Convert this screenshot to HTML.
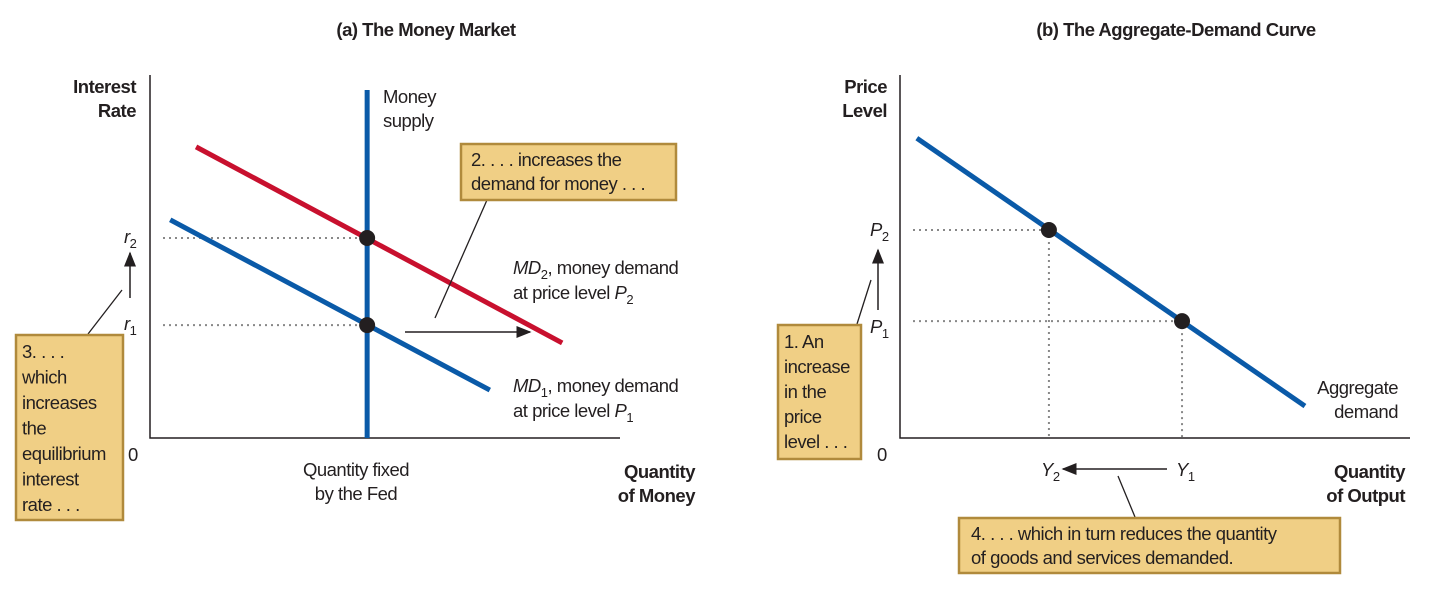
<!DOCTYPE html>
<html><head><meta charset="utf-8"><style>
body{margin:0;background:#fff;width:1431px;height:588px;overflow:hidden}
svg text{font-family:"Liberation Sans Narrow","Liberation Sans",sans-serif;font-size:18.5px;letter-spacing:-0.5px;fill:#231f20}
.b{font-weight:bold}
</style></head><body>
<svg id="s" width="1431" height="588" xmlns="http://www.w3.org/2000/svg">
<defs><marker id="ar" markerWidth="10" markerHeight="8" refX="9" refY="4" orient="auto"><path d="M0,0L10,4L0,8z" fill="#231f20"/></marker></defs>
<text x="426" y="36" text-anchor="middle" class="b">(a) The Money Market</text>
<text x="1176" y="36" text-anchor="middle" class="b">(b) The Aggregate-Demand Curve</text>
<g id="ga"></g><g id="gb"></g>
<text x="136" y="93" text-anchor="end" class="b"><tspan x="136">Interest</tspan><tspan x="136" dy="24">Rate</tspan></text>
<text x="128" y="461">0</text>
<text x="356" y="476" text-anchor="middle"><tspan x="356">Quantity fixed</tspan><tspan x="356" dy="24">by the Fed</tspan></text>
<text x="695" y="478" text-anchor="end" class="b"><tspan x="695">Quantity</tspan><tspan x="695" dy="24">of Money</tspan></text>
<text x="383" y="103"><tspan x="383">Money</tspan><tspan x="383" dy="24">supply</tspan></text>
<text x="513" y="274"><tspan x="513" font-style="italic">MD</tspan><tspan font-size="13" dy="5">2</tspan><tspan dy="-5">, money demand</tspan><tspan x="513" dy="25">at price level </tspan><tspan font-style="italic">P</tspan><tspan font-size="13" dy="5">2</tspan></text>
<text x="513" y="392"><tspan x="513" font-style="italic">MD</tspan><tspan font-size="13" dy="5">1</tspan><tspan dy="-5">, money demand</tspan><tspan x="513" dy="25">at price level </tspan><tspan font-style="italic">P</tspan><tspan font-size="13" dy="5">1</tspan></text>
<text x="124" y="243"><tspan font-style="italic">r</tspan><tspan font-size="13" dy="5">2</tspan></text>
<text x="124" y="330"><tspan font-style="italic">r</tspan><tspan font-size="13" dy="5">1</tspan></text>
<line x1="130" y1="298" x2="130" y2="253" stroke="#231f20" stroke-width="1.5" marker-end="url(#ar)"/>
<line x1="405" y1="332" x2="530" y2="332" stroke="#231f20" stroke-width="1.5" marker-end="url(#ar)"/>
<line x1="487" y1="200" x2="435" y2="318" stroke="#231f20" stroke-width="1.3"/>
<line x1="88" y1="334" x2="122" y2="290" stroke="#231f20" stroke-width="1.3"/>
<g><rect x="461" y="144" width="215" height="56" fill="#f0cf85" stroke="#b08a3c" stroke-width="2.5"/>
<text x="471" y="166"><tspan x="471">2. . . . increases the</tspan><tspan x="471" dy="24">demand for money . . .</tspan></text></g>
<g><rect x="16" y="335" width="107" height="185" fill="#f0cf85" stroke="#b08a3c" stroke-width="2.5"/>
<text x="22" y="358"><tspan x="22">3. . . .</tspan><tspan x="22" dy="25.5">which</tspan><tspan x="22" dy="25.5">increases</tspan><tspan x="22" dy="25.5">the</tspan><tspan x="22" dy="25.5">equilibrium</tspan><tspan x="22" dy="25.5">interest</tspan><tspan x="22" dy="25.5">rate . . .</tspan></text></g>
<text x="887" y="93" text-anchor="end" class="b"><tspan x="887">Price</tspan><tspan x="887" dy="24">Level</tspan></text>
<text x="877" y="461">0</text>
<text x="1405" y="478" text-anchor="end" class="b"><tspan x="1405">Quantity</tspan><tspan x="1405" dy="24">of Output</tspan></text>
<text x="1398" y="394" text-anchor="end"><tspan x="1398">Aggregate</tspan><tspan x="1398" dy="24">demand</tspan></text>
<text x="870" y="236"><tspan font-style="italic">P</tspan><tspan font-size="13" dy="5">2</tspan></text>
<text x="870" y="333"><tspan font-style="italic">P</tspan><tspan font-size="13" dy="5">1</tspan></text>
<text x="1041" y="476"><tspan font-style="italic">Y</tspan><tspan font-size="13" dy="5">2</tspan></text>
<text x="1176" y="476"><tspan font-style="italic">Y</tspan><tspan font-size="13" dy="5">1</tspan></text>
<line x1="878" y1="310" x2="878" y2="250" stroke="#231f20" stroke-width="1.5" marker-end="url(#ar)"/>
<line x1="1167" y1="469" x2="1063" y2="469" stroke="#231f20" stroke-width="1.5" marker-end="url(#ar)"/>
<line x1="857" y1="324" x2="871" y2="280" stroke="#231f20" stroke-width="1.3"/>
<line x1="1118" y1="476" x2="1135" y2="517" stroke="#231f20" stroke-width="1.3"/>
<g><rect x="778" y="325" width="83" height="134" fill="#f0cf85" stroke="#b08a3c" stroke-width="2.5"/>
<text x="784" y="348"><tspan x="784">1. An</tspan><tspan x="784" dy="25">increase</tspan><tspan x="784" dy="25">in the</tspan><tspan x="784" dy="25">price</tspan><tspan x="784" dy="25">level . . .</tspan></text></g>
<g><rect x="959" y="518" width="381" height="55" fill="#f0cf85" stroke="#b08a3c" stroke-width="2.5"/>
<text x="971" y="540"><tspan x="971">4. . . . which in turn reduces the quantity</tspan><tspan x="971" dy="24">of goods and services demanded.</tspan></text></g>
</svg>
<script>
const moneySupply = [46.2];
const md2Line = [[9.8, 80.2], [87.7, 26.2]];
const md1Line = [[4.3, 60.1], [72.3, 13.2]];
const rates = [55.1, 31.1];
const adLine = [[3.3, 82.6], [79.4, 8.8]];
const priceLevels = [57.3, 32.2];
const outputs = [29.2, 55.3];

const NS = "http://www.w3.org/2000/svg";
const xa = v => 150 + v * 4.7, xb = v => 900 + v * 5.1, ys = v => 438 - v * 3.63;
function mk(g, tag, at) { const e = document.createElementNS(NS, tag); for (const k in at) e.setAttribute(k, at[k]); g.appendChild(e); return e; }
const ga = document.getElementById('ga'), gb = document.getElementById('gb');
let e;
e = mk(ga, 'polyline', { points: `150,75 150,438 620,438`, fill: 'none', stroke: '#231f20', 'stroke-width': 1.5 });
 
rates.forEach((r, i) => {
  e = mk(ga, 'line', { x1: 163, y1: ys(r), x2: xa(moneySupply[0]), y2: ys(r), stroke: '#888', 'stroke-width': 2, 'stroke-dasharray': '2,4' });
   
});
e = mk(ga, 'line', { x1: xa(md2Line[0][0]), y1: ys(md2Line[0][1]), x2: xa(md2Line[1][0]), y2: ys(md2Line[1][1]), stroke: '#c8102e', 'stroke-width': 5 });
 
e = mk(ga, 'line', { x1: xa(md1Line[0][0]), y1: ys(md1Line[0][1]), x2: xa(md1Line[1][0]), y2: ys(md1Line[1][1]), stroke: '#0a5aa8', 'stroke-width': 5 });
 
e = mk(ga, 'line', { x1: xa(moneySupply[0]), y1: 90, x2: xa(moneySupply[0]), y2: 438, stroke: '#0a5aa8', 'stroke-width': 5 });
 
rates.forEach((r, i) => {
  e = mk(ga, 'circle', { cx: xa(moneySupply[0]), cy: ys(r), r: 8, fill: '#231f20' });
   
});
e = mk(gb, 'polyline', { points: `900,75 900,438 1410,438`, fill: 'none', stroke: '#231f20', 'stroke-width': 1.5 });
 
priceLevels.forEach((p, i) => {
  e = mk(gb, 'line', { x1: 913, y1: ys(p), x2: xb(outputs[i]), y2: ys(p), stroke: '#888', 'stroke-width': 2, 'stroke-dasharray': '2,4' });
   
  e = mk(gb, 'line', { x1: xb(outputs[i]), y1: ys(p), x2: xb(outputs[i]), y2: 438, stroke: '#888', 'stroke-width': 2, 'stroke-dasharray': '2,4' });
   
});
e = mk(gb, 'line', { x1: xb(adLine[0][0]), y1: ys(adLine[0][1]), x2: xb(adLine[1][0]), y2: ys(adLine[1][1]), stroke: '#0a5aa8', 'stroke-width': 5 });
 
priceLevels.forEach((p, i) => {
  e = mk(gb, 'circle', { cx: xb(outputs[i]), cy: ys(p), r: 8, fill: '#231f20' });
   
});
</script>
</body></html>
